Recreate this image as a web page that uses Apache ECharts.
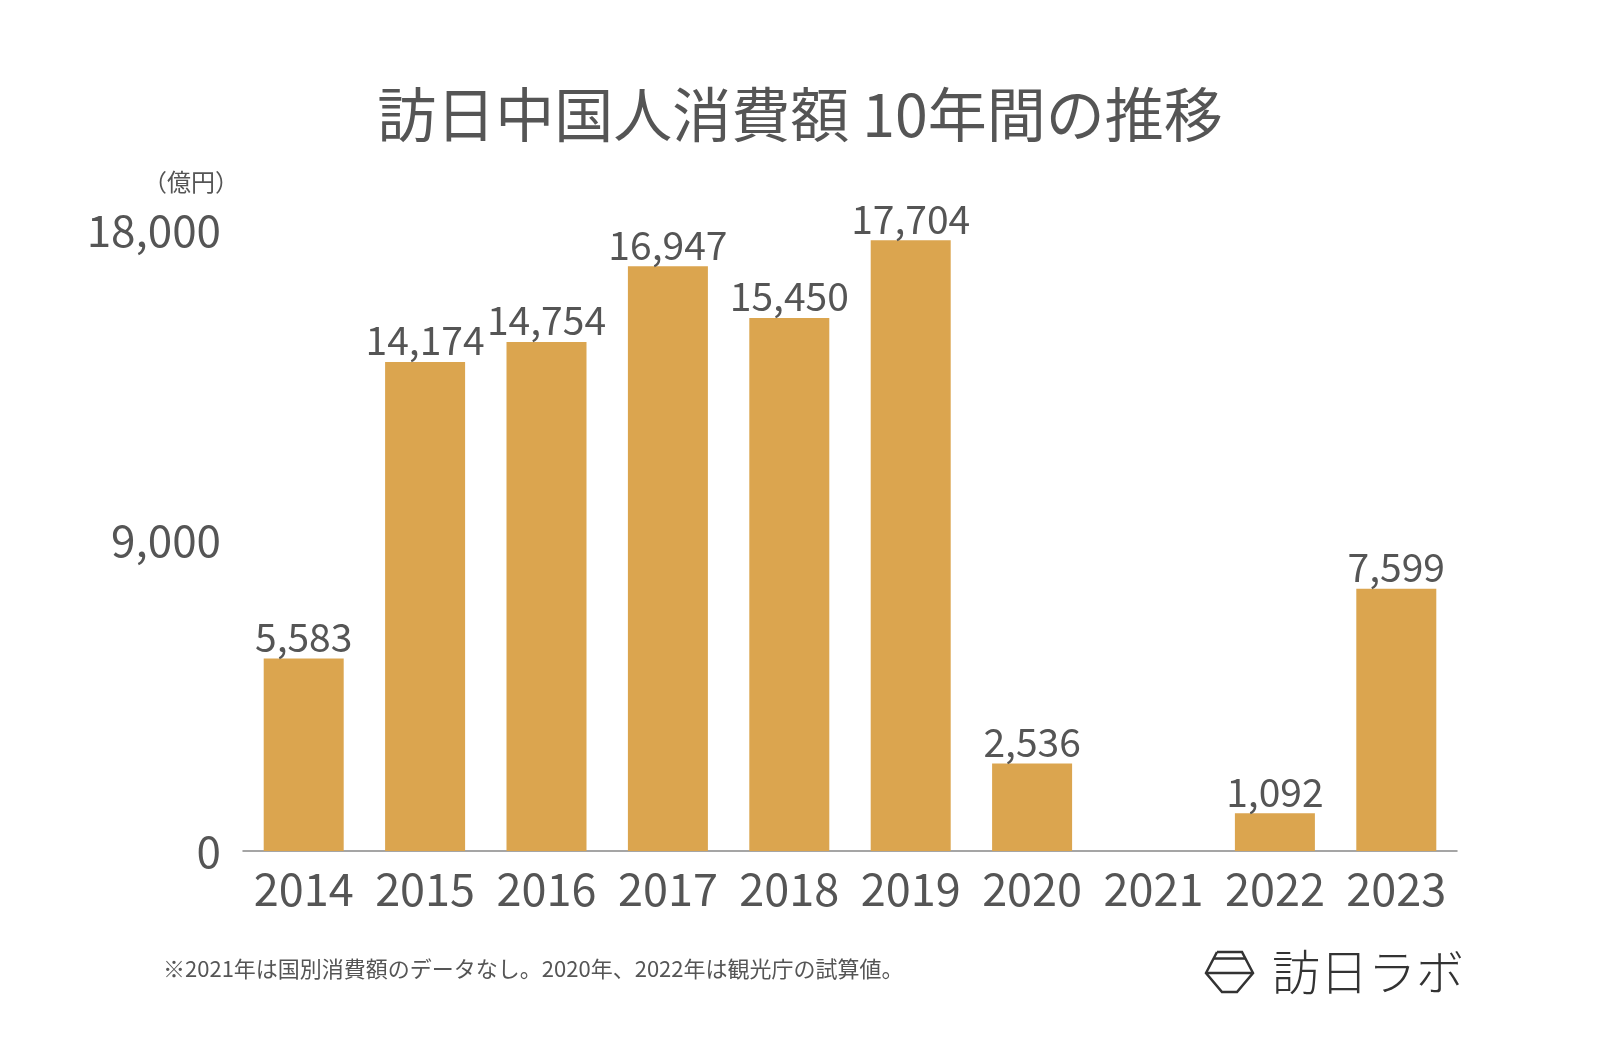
<!DOCTYPE html>
<html><head><meta charset="utf-8">
<style>html,body{margin:0;padding:0;background:#fff}#c{width:1600px;height:1048px}</style>
<script src="https://cdn.jsdelivr.net/npm/echarts@6/dist/echarts.min.js"></script>
</head><body><div id="c"></div>
<script>
const years = ['2014','2015','2016','2017','2018','2019','2020','2021','2022','2023'];
const spending = [5583, 14174, 14754, 16947, 15450, 17704, 2536, null, 1092, 7599];
const yTicks = [0, 9000, 18000];
const titleText = '訪日中国人消費額 10年間の推移';
const unitText = '（億円）';
const noteText = '※2021年は国別消費額のデータなし。2020年、2022年は観光庁の試算値。';
const logoText = '訪日ラボ';

const FONT = '"Noto Sans CJK JP", "Noto Sans", sans-serif';
const chart = echarts.init(document.getElementById('c'));
const fmt = v => Number(v).toLocaleString('en-US');
chart.setOption({
  backgroundColor: '#fff',
  animation: false,
  title: {
    text: titleText, left: 'center', top: 80,
    textStyle: { fontFamily: FONT, fontSize: 59, fontWeight: 'normal', color: '#555' }
  },
  grid: { left: 243, right: 143, top: 230, bottom: 197 },
  xAxis: {
    type: 'category', data: years,
    axisLine: { lineStyle: { color: '#888', width: 1.5 } },
    axisTick: { show: false },
    axisLabel: { fontFamily: FONT, fontSize: 45, color: '#555', margin: 15, interval: 0 }
  },
  yAxis: {
    type: 'value', min: yTicks[0], max: yTicks[yTicks.length - 1], interval: yTicks[1] - yTicks[0],
    axisLine: { show: false }, axisTick: { show: false }, splitLine: { show: false },
    axisLabel: { fontFamily: FONT, fontSize: 44, color: '#555', margin: 22, formatter: fmt, verticalAlign: 'middle', padding: [0, 0, 4, 0] }
  },
  series: [{
    type: 'bar', data: spending, barWidth: 80,
    itemStyle: { color: '#dba54f' },
    label: {
      show: true, position: 'top', distance: 2,
      fontFamily: FONT, fontSize: 39, color: '#555',
      formatter: p => fmt(p.value)
    }
  }],
  graphic: [
    { type: 'text', left: 143, top: 170, style: { text: unitText, fontFamily: FONT, fontSize: 24, fill: '#555' } },
    { type: 'text', left: 163, top: 958, style: { text: noteText, fontFamily: FONT, fontSize: 22, fill: '#555' } },
    { type: 'polyline', shape: { points: [[1217,952],[1242,952],[1253,973],[1237,992],[1222,992],[1206,973],[1217,952]] }, style: { stroke: '#333', lineWidth: 2.5, fill: null } },
    { type: 'line', shape: { x1: 1213, y1: 958.5, x2: 1246, y2: 958.5 }, style: { stroke: '#333', lineWidth: 2.5 } },
    { type: 'line', shape: { x1: 1206, y1: 973, x2: 1253, y2: 973 }, style: { stroke: '#333', lineWidth: 2.5 } },
    { type: 'text', left: 1272, top: 948, style: { text: logoText, fontFamily: FONT, fontSize: 48, fontWeight: 300, fill: '#333' } }
  ]
});
</script></body></html>
